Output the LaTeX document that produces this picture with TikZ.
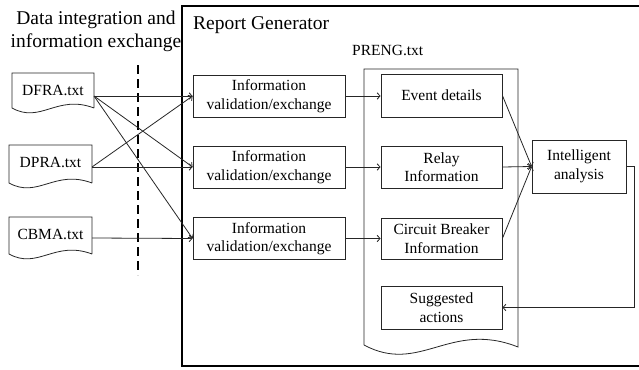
\documentclass[tikz,border=0pt]{standalone}
\usepackage{fontspec}
\setmainfont{Liberation Serif}
\usetikzlibrary{arrows.meta}
\newcommand{\docshape}[4]{% x1, ytop, x2, ybottom
  \draw[docline] (#3,#4) -- (#3,#2) -- (#1,#2) -- (#1,#4)
    .. controls ({#1+0.35*(#3-#1)},{#4+16}) and ({#1+0.55*(#3-#1)},{#4-14}) .. (#3,#4);
}
\begin{document}
\begin{tikzpicture}[x=1pt,y=-1pt,
  big/.style={font=\fontsize{19.5}{23}\selectfont, inner sep=0pt},
  small/.style={font=\fontsize{15.5}{18.5}\selectfont, inner sep=0pt},
  docline/.style={draw=black!85, line width=0.8pt},
  infobox/.style={draw=black!85, line width=0.8pt, minimum width=152pt, minimum height=42pt,
    inner sep=0pt, align=center, font=\fontsize{15.5}{18.5}\selectfont},
  partbox/.style={draw=black!85, line width=0.8pt, minimum width=121pt, minimum height=42pt,
    inner sep=0pt, align=center, font=\fontsize{15.5}{18.5}\selectfont},
  conn/.style={draw=black!85, line width=0.8pt, -{Straight Barb[length=3pt,width=6.5pt]}},
  plain/.style={draw=black!85, line width=0.8pt}
]
\useasboundingbox (0,0) rectangle (639,369);

% outer Report Generator frame (open to the right)
\draw[line width=1.3pt] (641,6) -- (182,6) -- (182,366) -- (641,366);

% title texts
\node[big, align=center] (title) at (96,31) {Data integration and\\information exchange};
\node[big, anchor=base west] (rg) at (193,30) {Report Generator};
\node[small, anchor=base west] (preng) at (352,56) {PRENG.txt};

% PRENG document
\draw[docline] (364,345) -- (364,69) -- (518,69) -- (518,347)
  .. controls (450,320) and (420,375) .. (364,345);

% dashed separator
\coordinate (dtop) at (138,65);
\coordinate (dbot) at (138,275);
\draw[line width=1.3pt, dash pattern=on 9pt off 5pt] (dtop) -- (dbot);

% source documents
\docshape{12}{73}{94}{108}
\docshape{9}{145}{92}{183}
\docshape{9}{217}{92}{254}
\node[small] (dfra) at (53,90) {DFRA.txt};
\node[small] (dpra) at (50.5,162) {DPRA.txt};
\node[small] (cbma) at (50.5,234) {CBMA.txt};
\coordinate (dfraout) at (94,96);
\coordinate (dpraout) at (92,167);
\coordinate (cbmaout) at (92,238);

% validation boxes
\node[infobox] (iv1) at (269,96) {Information\\validation/exchange};
\node[infobox] (iv2) at (269,167) {Information\\validation/exchange};
\node[infobox] (iv3) at (269,238.5) {Information\\validation/exchange};

% PRENG parts
\node[partbox, minimum height=43pt] (ev) at (441.5,95.5) {Event details};
\node[partbox] (relay) at (441.5,167) {Relay\\Information};
\node[partbox, minimum height=41pt] (cb) at (441.5,238.5) {Circuit Breaker\\Information};
\node[partbox, minimum height=43pt] (sug) at (441.5,307.5) {Suggested\\actions};

% intelligent analysis
\node[draw=black!85, line width=0.8pt, minimum width=94pt, minimum height=53pt, inner sep=0pt,
  align=center, font=\fontsize{15.5}{18.5}\selectfont] (ia) at (579,166.5) {Intelligent\\analysis};

% connectors from sources
\draw[conn] (dfraout) -- (iv1.west);
\draw[conn] (dfraout) -- (iv2.west);
\draw[conn] (dfraout) -- (iv3.west);
\draw[conn] (dpraout) -- (iv1.west);
\draw[conn] (dpraout) -- (iv2.west);
\draw[conn] (cbmaout) -- (iv3.west);

% validation to parts
\draw[conn] (iv1.east) -- (iv1.east -| ev.west);
\draw[conn] (iv2.east) -- (iv2.east -| relay.west);
\draw[conn] (iv3.east) -- (iv3.east -| cb.west);

% parts to analysis
\draw[conn] (ev.east) -- (ia.west);
\draw[conn] (relay.east) -- (ia.west);
\draw[conn] (cb.east) -- (ia.west);

% feedback
\coordinate (fb1) at (634,166.5);
\coordinate (fb2) at (634,307.5);
\draw[conn] (ia.east) -- (fb1) -- (fb2) -- (sug.east);
\end{tikzpicture}
\end{document}
